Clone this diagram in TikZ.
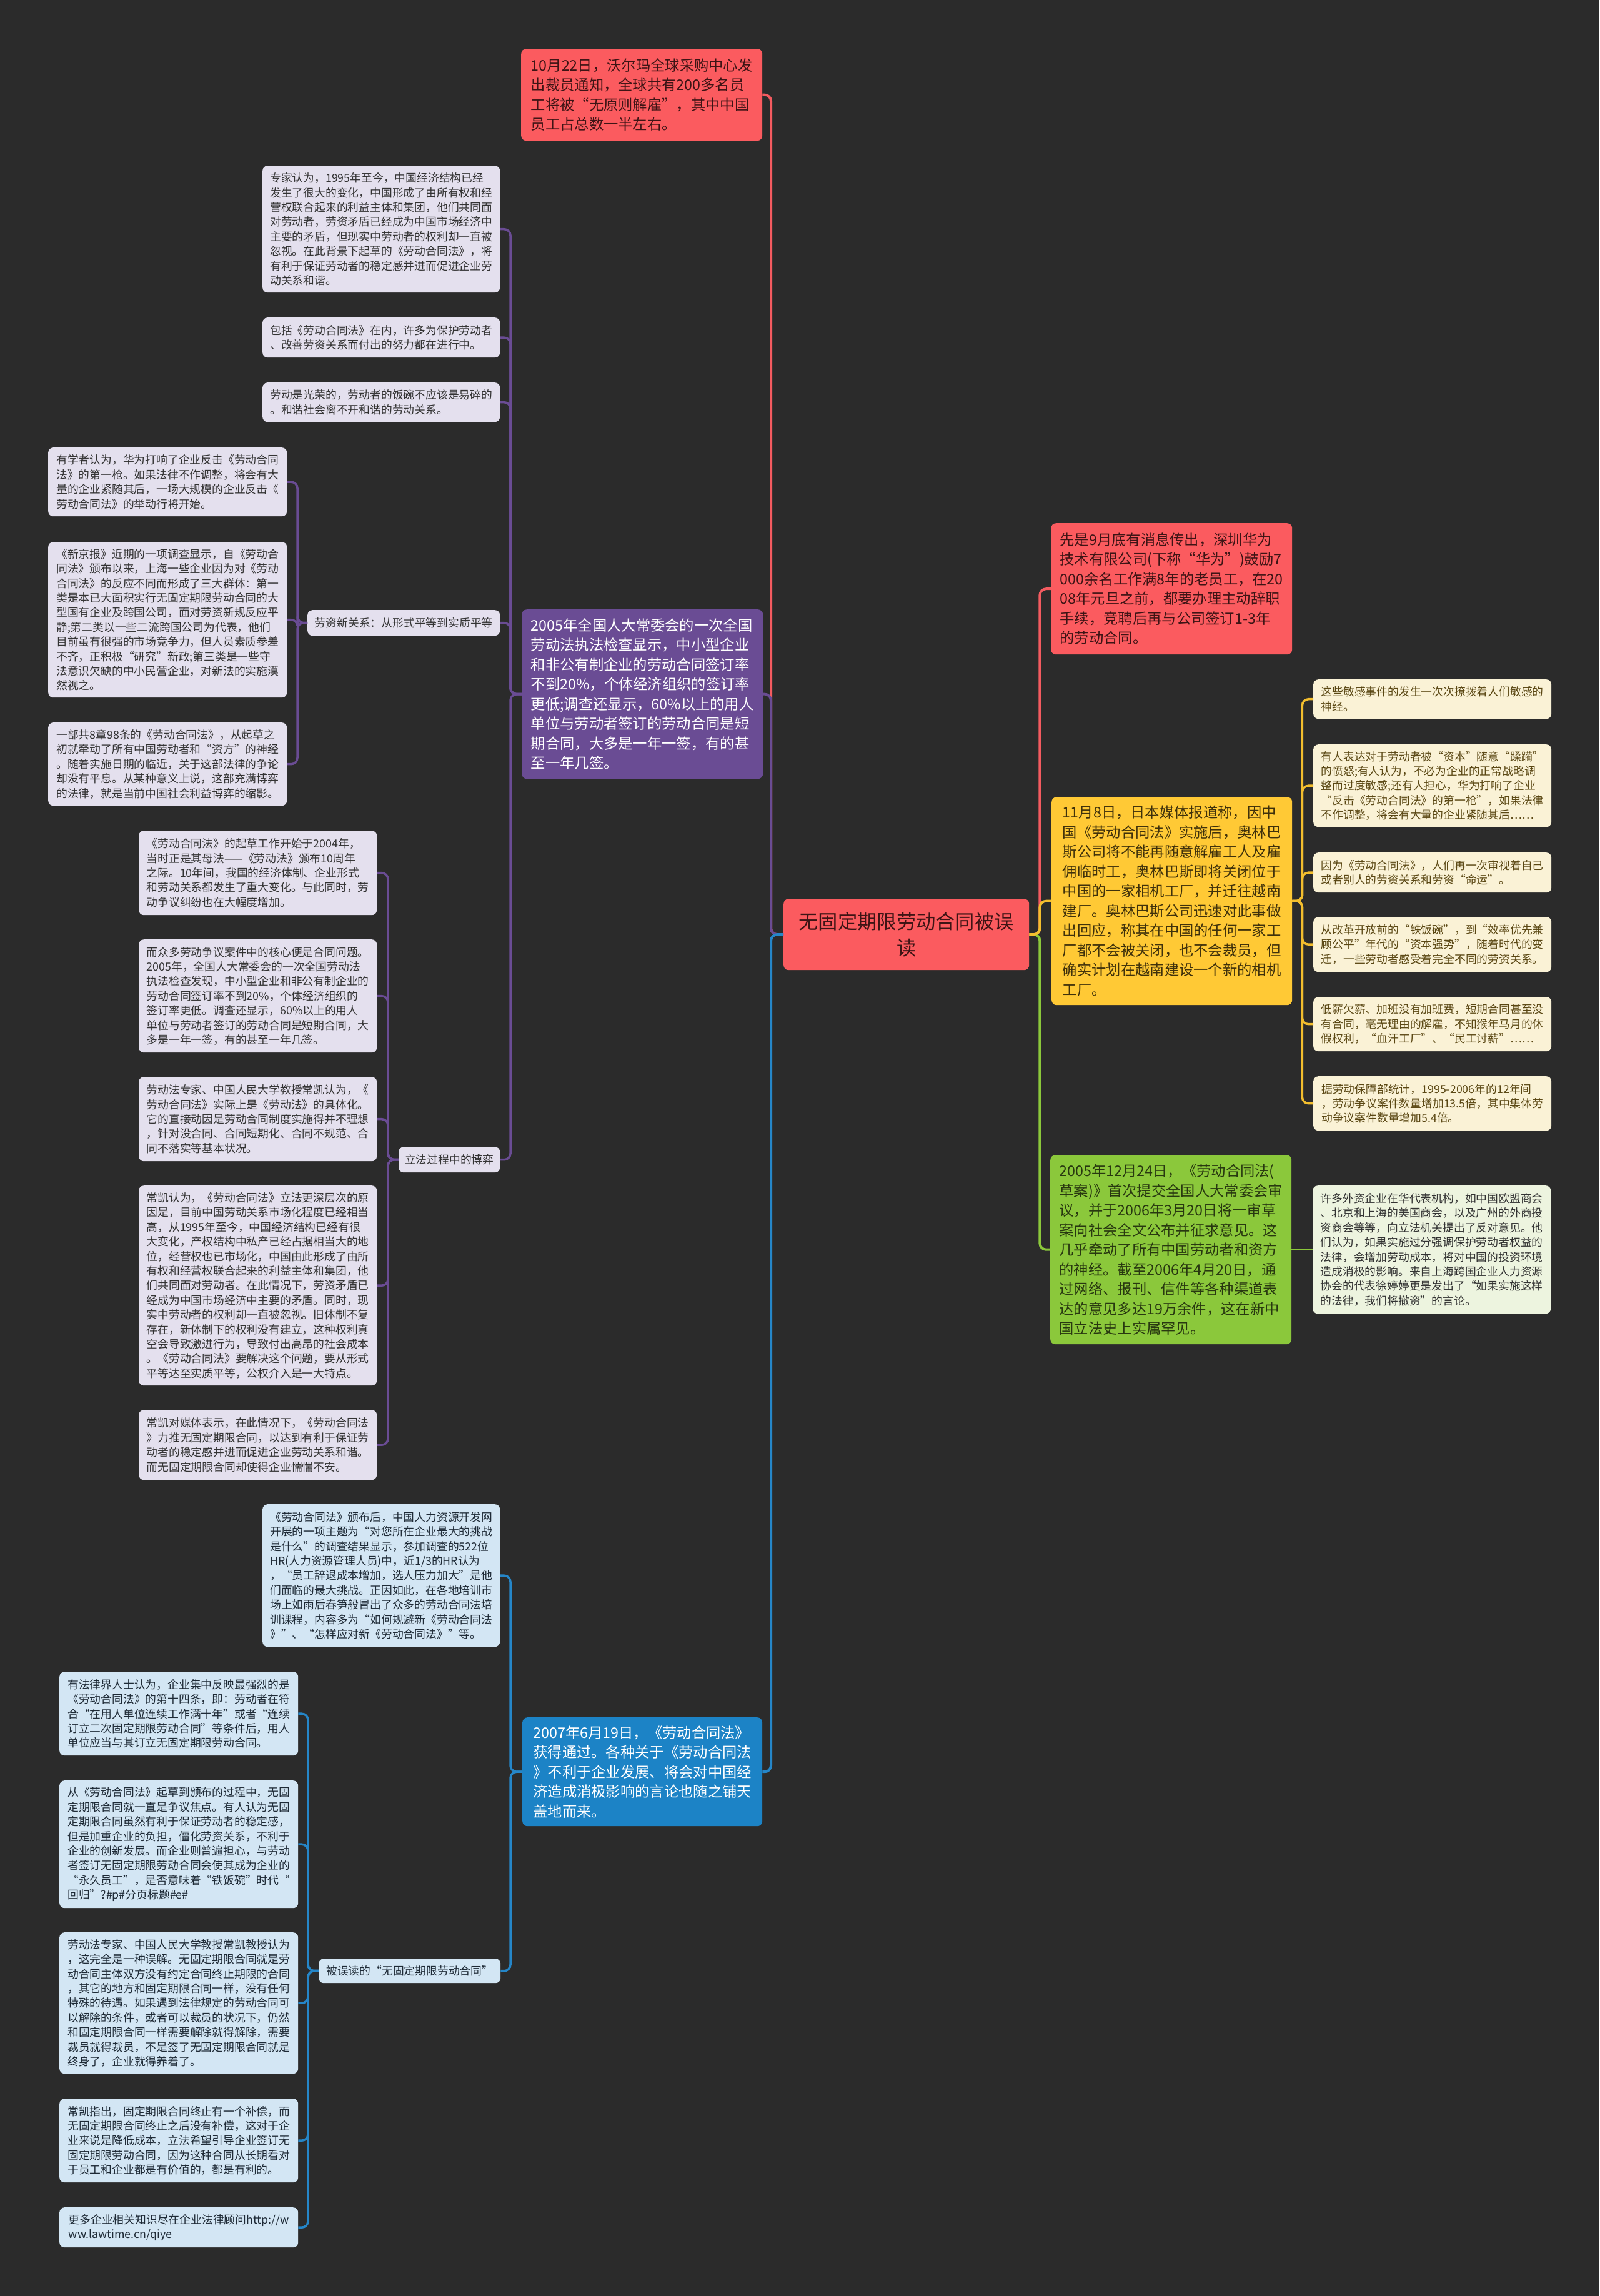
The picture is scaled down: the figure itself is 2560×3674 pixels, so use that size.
\documentclass[tikz,border=0pt]{standalone}
\usepackage{fontspec}
\setmainfont{Noto Sans CJK SC}
\definecolor{bgc}{HTML}{2B2B2B}
\definecolor{redf}{HTML}{FB5B5F}
\definecolor{redl}{HTML}{F45B60}
\definecolor{redt}{HTML}{3E1415}
\definecolor{purf}{HTML}{6A4C94}
\definecolor{purl}{HTML}{6A4C94}
\definecolor{lavf}{HTML}{E4E0EE}
\definecolor{lavt}{HTML}{333333}
\definecolor{yelf}{HTML}{FFC935}
\definecolor{yell}{HTML}{F3BE2E}
\definecolor{yelt}{HTML}{3F310B}
\definecolor{crmf}{HTML}{FAF2D6}
\definecolor{crmt}{HTML}{5A4713}
\definecolor{grnf}{HTML}{8BC83B}
\definecolor{grnl}{HTML}{8BC83B}
\definecolor{grnt}{HTML}{283810}
\definecolor{grlf}{HTML}{EDF4DF}
\definecolor{bluf}{HTML}{1C83C6}
\definecolor{blul}{HTML}{2586C8}
\definecolor{bllf}{HTML}{D3E6F4}
\definecolor{bllt}{HTML}{1E2A36}
\tikzset{
  base/.style={rectangle, rounded corners=8pt, anchor=north west, inner sep=0pt, align=left},
  sm/.style={base, font=\fontsize{17.8}{23.4}\selectfont},
  lg/.style={base, font=\fontsize{23.3}{31.5}\selectfont},
  lav/.style={sm, fill=lavf, text=lavt},
  crm/.style={sm, fill=crmf, text=crmt},
  bll/.style={sm, fill=bllf, text=bllt},
  grl/.style={sm, fill=grlf, text=lavt},
  link/.style={line width=4pt, rounded corners=10pt},
  link2/.style={line width=3.5pt, rounded corners=10pt},
}
\begin{document}
\begin{tikzpicture}[x=1pt,y=-1pt]
\fill[bgc] (0,0) rectangle (2560,3674);
\useasboundingbox (0,0) rectangle (2560,3674);

% center
\node[base, align=center, fill=redf, text=redt, font=\fontsize{31.3}{42}\selectfont, minimum width=393pt, minimum height=114pt] (ce) at (1254,1438) {无固定期限劳动合同被误\\读};

% main branches
\node[lg, fill=redf, text=redt, minimum width=386pt, minimum height=147pt] (tr) at (834,78) {10月22日，沃尔玛全球采购中心发\\出裁员通知，全球共有200多名员\\工将被“无原则解雇”，其中中国\\员工占总数一半左右。};
\node[lg, fill=purf, text=white, minimum width=386pt, minimum height=271pt] (pu) at (835,975) {2005年全国人大常委会的一次全国\\劳动法执法检查显示，中小型企业\\和非公有制企业的劳动合同签订率\\不到20\%，个体经济组织的签订率\\更低;调查还显示，60\%以上的用人\\单位与劳动者签订的劳动合同是短\\期合同，大多是一年一签，有的甚\\至一年几签。};
\node[lg, fill=bluf, text=white, minimum width=384pt, minimum height=174pt] (bl) at (836,2748) {2007年6月19日，《劳动合同法》\\获得通过。各种关于《劳动合同法\\》不利于企业发展、将会对中国经\\济造成消极影响的言论也随之铺天\\盖地而来。};
\node[lg, fill=redf, text=redt, minimum width=386pt, minimum height=210pt] (rr) at (1682,837) {先是9月底有消息传出，深圳华为\\技术有限公司(下称“华为”)鼓励7\\000余名工作满8年的老员工，在20\\08年元旦之前，都要办理主动辞职\\手续，竞聘后再与公司签订1-3年\\的劳动合同。};
\node[lg, fill=yelf, text=yelt, minimum width=385pt, minimum height=333pt] (ye) at (1683,1275) {11月8日，日本媒体报道称，因中\\国《劳动合同法》实施后，奥林巴\\斯公司将不能再随意解雇工人及雇\\佣临时工，奥林巴斯即将关闭位于\\中国的一家相机工厂，并迁往越南\\建厂。奥林巴斯公司迅速对此事做\\出回应，称其在中国的任何一家工\\厂都不会被关闭，也不会裁员，但\\确实计划在越南建设一个新的相机\\工厂。};
\node[lg, fill=grnf, text=grnt, minimum width=386pt, minimum height=303pt] (gr) at (1681,1848) {2005年12月24日，《劳动合同法(\\草案)》首次提交全国人大常委会审\\议，并于2006年3月20日将一审草\\案向社会全文公布并征求意见。这\\几乎牵动了所有中国劳动者和资方\\的神经。截至2006年4月20日，通\\过网络、报刊、信件等各种渠道表\\达的意见多达19万余件，这在新中\\国立法史上实属罕见。};

% purple children
\node[lav, minimum width=380pt, minimum height=203pt] (p1) at (420,265) {专家认为，1995年至今，中国经济结构已经\\发生了很大的变化，中国形成了由所有权和经\\营权联合起来的利益主体和集团，他们共同面\\对劳动者，劳资矛盾已经成为中国市场经济中\\主要的矛盾，但现实中劳动者的权利却一直被\\忽视。在此背景下起草的《劳动合同法》，将\\有利于保证劳动者的稳定感并进而促进企业劳\\动关系和谐。};
\node[lav, minimum width=380pt, minimum height=64pt] (p2) at (420,508) {包括《劳动合同法》在内，许多为保护劳动者\\、改善劳资关系而付出的努力都在进行中。};
\node[lav, minimum width=380pt, minimum height=63pt] (p3) at (420,612) {劳动是光荣的，劳动者的饭碗不应该是易碎的\\。和谐社会离不开和谐的劳动关系。};
\node[lav, align=center, minimum width=308pt, minimum height=41pt] (p4) at (492,976) {劳资新关系：从形式平等到实质平等};
\node[lav, align=center, minimum width=162pt, minimum height=41pt] (p5) at (638,1835) {立法过程中的博弈};

\node[lav, minimum width=382pt, minimum height=110pt] (q1) at (77,716) {有学者认为，华为打响了企业反击《劳动合同\\法》的第一枪。如果法律不作调整，将会有大\\量的企业紧随其后，一场大规模的企业反击《\\劳动合同法》的举动行将开始。};
\node[lav, minimum width=382pt, minimum height=249pt] (q2) at (77,867) {《新京报》近期的一项调查显示，自《劳动合\\同法》颁布以来，上海一些企业因为对《劳动\\合同法》的反应不同而形成了三大群体：第一\\类是本已大面积实行无固定期限劳动合同的大\\型国有企业及跨国公司，面对劳资新规反应平\\静;第二类以一些二流跨国公司为代表，他们\\目前虽有很强的市场竞争力，但人员素质参差\\不齐，正积极“研究”新政;第三类是一些守\\法意识欠缺的中小民营企业，对新法的实施漠\\然视之。};
\node[lav, minimum width=382pt, minimum height=133pt] (q3) at (77,1156) {一部共8章98条的《劳动合同法》，从起草之\\初就牵动了所有中国劳动者和“资方”的神经\\。随着实施日期的临近，关于这部法律的争论\\却没有平息。从某种意义上说，这部充满博弈\\的法律，就是当前中国社会利益博弈的缩影。};

\node[lav, minimum width=381pt, minimum height=135pt] (r1) at (222,1329) {《劳动合同法》的起草工作开始于2004年，\\当时正是其母法——《劳动法》颁布10周年\\之际。10年间，我国的经济体制、企业形式\\和劳动关系都发生了重大变化。与此同时，劳\\动争议纠纷也在大幅度增加。};
\node[lav, minimum width=381pt, minimum height=181pt] (r2) at (222,1503) {而众多劳动争议案件中的核心便是合同问题。\\2005年，全国人大常委会的一次全国劳动法\\执法检查发现，中小型企业和非公有制企业的\\劳动合同签订率不到20\%，个体经济组织的\\签订率更低。调查还显示，60\%以上的用人\\单位与劳动者签订的劳动合同是短期合同，大\\多是一年一签，有的甚至一年几签。};
\node[lav, minimum width=381pt, minimum height=135pt] (r3) at (222,1723) {劳动法专家、中国人民大学教授常凯认为，《\\劳动合同法》实际上是《劳动法》的具体化。\\它的直接动因是劳动合同制度实施得并不理想\\，针对没合同、合同短期化、合同不规范、合\\同不落实等基本状况。};
\node[lav, minimum width=381pt, minimum height=320pt] (r4) at (222,1897) {常凯认为，《劳动合同法》立法更深层次的原\\因是，目前中国劳动关系市场化程度已经相当\\高，从1995年至今，中国经济结构已经有很\\大变化，产权结构中私产已经占据相当大的地\\位，经营权也已市场化，中国由此形成了由所\\有权和经营权联合起来的利益主体和集团，他\\们共同面对劳动者。在此情况下，劳资矛盾已\\经成为中国市场经济中主要的矛盾。同时，现\\实中劳动者的权利却一直被忽视。旧体制不复\\存在，新体制下的权利没有建立，这种权利真\\空会导致激进行为，导致付出高昂的社会成本\\。《劳动合同法》要解决这个问题，要从形式\\平等达至实质平等，公权介入是一大特点。};
\node[lav, minimum width=381pt, minimum height=112pt] (r5) at (222,2256) {常凯对媒体表示，在此情况下，《劳动合同法\\》力推无固定期限合同，以达到有利于保证劳\\动者的稳定感并进而促进企业劳动关系和谐。\\而无固定期限合同却使得企业惴惴不安。};

% blue children
\node[bll, minimum width=380pt, minimum height=228pt] (b1) at (420,2407) {《劳动合同法》颁布后，中国人力资源开发网\\开展的一项主题为“对您所在企业最大的挑战\\是什么”的调查结果显示，参加调查的522位\\HR(人力资源管理人员)中，近1/3的HR认为\\，“员工辞退成本增加，选人压力加大”是他\\们面临的最大挑战。正因如此，在各地培训市\\场上如雨后春笋般冒出了众多的劳动合同法培\\训课程，内容多为“如何规避新《劳动合同法\\》”、“怎样应对新《劳动合同法》”等。};
\node[bll, align=center, minimum width=291pt, minimum height=39pt] (b2) at (510,3134) {被误读的“无固定期限劳动合同”};

\node[bll, minimum width=382pt, minimum height=134pt] (s1) at (95,2675) {有法律界人士认为，企业集中反映最强烈的是\\《劳动合同法》的第十四条，即：劳动者在符\\合“在用人单位连续工作满十年”或者“连续\\订立二次固定期限劳动合同”等条件后，用人\\单位应当与其订立无固定期限劳动合同。};
\node[bll, minimum width=382pt, minimum height=204pt] (s2) at (95,2849) {从《劳动合同法》起草到颁布的过程中，无固\\定期限合同就一直是争议焦点。有人认为无固\\定期限合同虽然有利于保证劳动者的稳定感，\\但是加重企业的负担，僵化劳资关系，不利于\\企业的创新发展。而企业则普遍担心，与劳动\\者签订无固定期限劳动合同会使其成为企业的\\“永久员工”，是否意味着“铁饭碗”时代“\\回归”?\#p\#分页标题\#e\#};
\node[bll, minimum width=382pt, minimum height=226pt] (s3) at (95,3092) {劳动法专家、中国人民大学教授常凯教授认为\\，这完全是一种误解。无固定期限合同就是劳\\动合同主体双方没有约定合同终止期限的合同\\，其它的地方和固定期限合同一样，没有任何\\特殊的待遇。如果遇到法律规定的劳动合同可\\以解除的条件，或者可以裁员的状况下，仍然\\和固定期限合同一样需要解除就得解除，需要\\裁员就得裁员，不是签了无固定期限合同就是\\终身了，企业就得养着了。};
\node[bll, minimum width=382pt, minimum height=134pt] (s4) at (95,3358) {常凯指出，固定期限合同终止有一个补偿，而\\无固定期限合同终止之后没有补偿，这对于企\\业来说是降低成本，立法希望引导企业签订无\\固定期限劳动合同，因为这种合同从长期看对\\于员工和企业都是有价值的，都是有利的。};
\node[bll, minimum width=382pt, minimum height=64pt] (s5) at (95,3532) {更多企业相关知识尽在企业法律顾问http://w\\ww.lawtime.cn/qiye};

% yellow children
\node[crm, minimum width=381pt, minimum height=63pt] (y1) at (2102,1087) {这些敏感事件的发生一次次撩拨着人们敏感的\\神经。};
\node[crm, minimum width=381pt, minimum height=132pt] (y2) at (2102,1191) {有人表达对于劳动者被“资本”随意“蹂躏”\\的愤怒;有人认为，不必为企业的正常战略调\\整而过度敏感;还有人担心，华为打响了企业\\“反击《劳动合同法》的第一枪”，如果法律\\不作调整，将会有大量的企业紧随其后……};
\node[crm, minimum width=381pt, minimum height=64pt] (y3) at (2102,1364) {因为《劳动合同法》，人们再一次审视着自己\\或者别人的劳资关系和劳资“命运”。};
\node[crm, minimum width=381pt, minimum height=88pt] (y4) at (2102,1467) {从改革开放前的“铁饭碗”，到“效率优先兼\\顾公平”年代的“资本强势”，随着时代的变\\迁，一些劳动者感受着完全不同的劳资关系。};
\node[crm, minimum width=381pt, minimum height=87pt] (y5) at (2102,1595) {低薪欠薪、加班没有加班费，短期合同甚至没\\有合同，毫无理由的解雇，不知猴年马月的休\\假权利，“血汗工厂”、“民工讨薪”……};
\node[crm, minimum width=381pt, minimum height=87pt] (y6) at (2102,1722) {据劳动保障部统计，1995-2006年的12年间\\，劳动争议案件数量增加13.5倍，其中集体劳\\动争议案件数量增加5.4倍。};

% green child
\node[grl, minimum width=381pt, minimum height=205pt] (g1) at (2101,1897) {许多外资企业在华代表机构，如中国欧盟商会\\、北京和上海的美国商会，以及广州的外商投\\资商会等等，向立法机关提出了反对意见。他\\们认为，如果实施过分强调保护劳动者权益的\\法律，会增加劳动成本，将对中国的投资环境\\造成消极的影响。来自上海跨国企业人力资源\\协会的代表徐婷婷更是发出了“如果实施这样\\的法律，我们将撤资”的言论。};

% connectors from center
\draw[link, redl] (ce.west) -- ++(-20,0) |- (tr.east);
\draw[link, purl] (ce.west) -- ++(-20,0) |- (pu.east);
\draw[link, blul] (ce.west) -- ++(-20,0) |- (bl.east);
\draw[link, redl] (ce.east) -- ++(17,0) |- (rr.west);
\draw[link, grnl] (ce.east) -- ++(17,0) |- (gr.west);
\draw[link, yell] (ce.east) -- ++(17,0) |- (ye.west);

% sub connectors
\foreach \n in {p1,p2,p3,p4,p5} \draw[link2, purl] (pu.west) -- ++(-18,0) |- (\n.east);
\foreach \n in {q1,q2,q3} \draw[link2, purl] (p4.west) -- ++(-16,0) |- (\n.east);
\foreach \n in {r1,r2,r3,r4,r5} \draw[link2, purl] (p5.west) -- ++(-17,0) |- (\n.east);
\foreach \n in {b1,b2} \draw[link2, blul] (bl.west) -- ++(-19,0) |- (\n.east);
\foreach \n in {s1,s2,s3,s4,s5} \draw[link2, blul] (b2.west) -- ++(-17,0) |- (\n.east);
\foreach \n in {y1,y2,y3,y4,y5,y6} \draw[link2, yell] (ye.east) -- ++(16,0) |- (\n.west);
\draw[link2, grnl] (gr.east) -- (g1.west);
\end{tikzpicture}
\end{document}
